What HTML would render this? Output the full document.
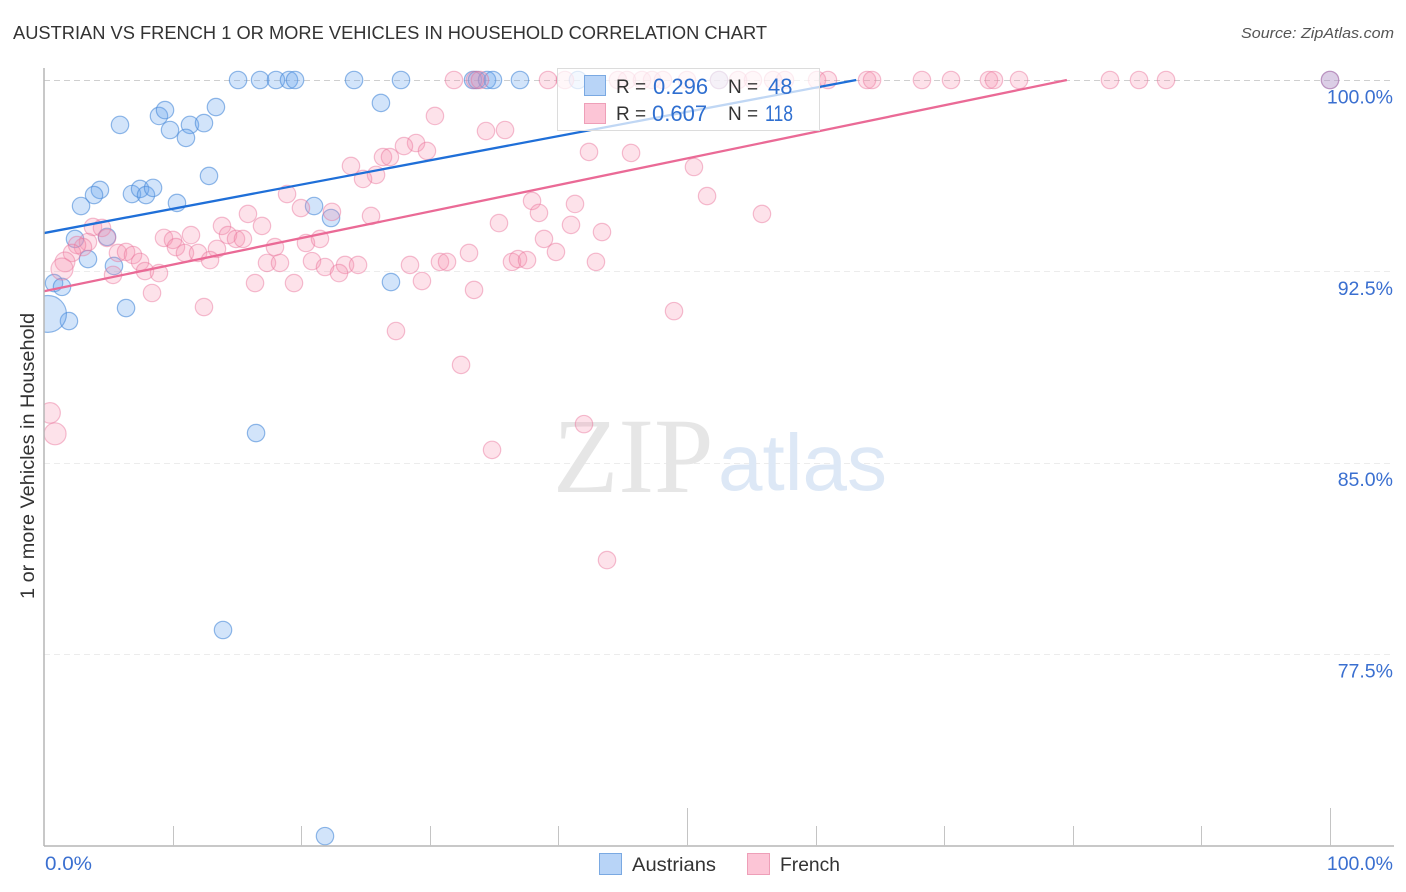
<!DOCTYPE html>
<html lang="en">
<head>
<meta charset="utf-8">
<title>Austrian vs French 1 or more Vehicles in Household Correlation Chart</title>
<style>
html,body{margin:0;padding:0;background:#fff;width:1406px;height:892px;overflow:hidden}
svg{display:block;font-family:"Liberation Sans",sans-serif}
</style>
</head>
<body>
<svg id="chart" width="1406" height="892" viewBox="0 0 1406 892" xmlns="http://www.w3.org/2000/svg">
  <defs>
    <clipPath id="plot-clip"><rect x="44" y="68" width="1350" height="778"/></clipPath>
  </defs>
  <text x="13" y="39" font-size="18.5" fill="#333" textLength="754" lengthAdjust="spacingAndGlyphs">AUSTRIAN VS FRENCH 1 OR MORE VEHICLES IN HOUSEHOLD CORRELATION CHART</text>
  <text x="1394" y="38" font-size="15" font-style="italic" fill="#555" text-anchor="end" textLength="153" lengthAdjust="spacingAndGlyphs">Source: ZipAtlas.com</text>
  <g id="grid"></g>
  <g>
    <text x="553" y="492" font-family="'Liberation Serif',serif" font-size="107" fill="#e6e6e6">ZIP</text>
    <text x="718" y="490" font-size="80" fill="#dde8f6">atlas</text>
  </g>
  <g id="points" clip-path="url(#plot-clip)"></g>
  <g id="trends"></g>
  <line x1="44" y1="68" x2="44" y2="846" stroke="#b5b5b5" stroke-width="1.5"/>
  <line x1="44" y1="846" x2="1394" y2="846" stroke="#b5b5b5" stroke-width="1.5"/>
  <g id="ticks"></g>
  <text transform="translate(34,456) rotate(-90)" font-size="19" fill="#333" text-anchor="middle" textLength="286" lengthAdjust="spacingAndGlyphs">1 or more Vehicles in Household</text>
  <g>
    <rect x="557.5" y="68.5" width="262" height="62" fill="#fff" fill-opacity="0.72" stroke="#dcdcdc" stroke-width="1"/>
    <rect x="584.5" y="75.5" width="21" height="20" fill="#b8d4f7" stroke="#7aa9e2"/>
    <rect x="584.5" y="103.5" width="21" height="20" fill="#fcc5d6" stroke="#ee9fb8"/>
    <text x="616" y="93" font-size="19" fill="#333">R =</text>
    <text x="653" y="94" font-size="22" fill="#2f6fd0">0.296</text>
    <text x="728" y="93" font-size="19" fill="#333">N =</text>
    <text x="768" y="94" font-size="22" fill="#2f6fd0">48</text>
    <text x="616" y="120" font-size="19" fill="#333">R =</text>
    <text x="652" y="121" font-size="22" fill="#2f6fd0">0.607</text>
    <text x="728" y="120" font-size="19" fill="#333">N =</text>
    <text x="765" y="121" font-size="22" fill="#2f6fd0" textLength="28" lengthAdjust="spacingAndGlyphs">118</text>
  </g>
  <g>
    <rect x="599.5" y="853.5" width="22" height="21" fill="#b8d4f7" stroke="#7aa9e2"/>
    <text x="632" y="871" font-size="19.5" fill="#333" textLength="84" lengthAdjust="spacingAndGlyphs">Austrians</text>
    <rect x="747.5" y="853.5" width="22" height="21" fill="#fcc5d6" stroke="#ee9fb8"/>
    <text x="780" y="871" font-size="19.5" fill="#333" textLength="60" lengthAdjust="spacingAndGlyphs">French</text>
  </g>
</svg>
<script>
var yTickValues = [100, 92.5, 85, 77.5];
var yTickLabels = ["100.0%", "92.5%", "85.0%", "77.5%"];
var xTickValues = [0, 10, 20, 30, 40, 50, 60, 70, 80, 90, 100];
var xMajorTicks = [50, 100];
var xEndLabels = ["0.0%", "100.0%"];

var austrianX = [15.09,16.80,18.04,19.05,19.52,24.11,27.76,33.36,33.67,34.45,34.91,37.01,41.52,52.49,100,
  26.20,5.91,8.94,9.41,9.80,11.35,12.44,13.37,11.04,12.83,
  4.35,3.89,2.88,6.84,7.47,7.93,8.48,10.34,21.00,22.32,
  4.90,2.41,3.42,5.44,0.78,1.40,26.98,6.38,1.94,0.31,
  16.49,13.92,21.85];
var austrianY = [100,100,100,100,100,100,100,100,100,100,100,100,100,100,100,
  99.10,98.24,98.59,98.82,98.04,98.24,98.31,98.94,97.73,96.24,
  95.69,95.49,95.06,95.53,95.73,95.49,95.77,95.18,95.06,94.59,
  93.85,93.77,92.98,92.71,92.04,91.89,92.08,91.06,90.55,90.83,
  86.16,78.44,70.36];
var austrianWeight = [1,1,1,1,1,1,1,1,1,1,1,1,1,1,1,
  1,1,1,1,1,1,1,1,1,1,
  1,1,1,1,1,1,1,1,1,1,
  1,1,1,1,1,1,1,1,1,4.5,
  1,1,1];

var frenchX = [31.88,33.51,33.90,39.19,40.51,44.63,45.33,46.50,47.28,48.13,50.00,52.49,53.97,55.13,56.69,57.62,60.11,60.96,64.00,64.39,68.27,70.53,73.48,73.87,75.82,82.89,85.15,87.25,100,
  30.40,28.93,27.99,29.78,26.36,26.90,23.87,25.82,24.81,18.90,19.98,22.39,25.43,15.86,16.95,13.84,14.31,14.93,15.47,11.43,
  3.81,4.51,4.90,9.33,10.03,10.26,10.96,11.98,13.45,12.91,17.96,20.37,21.46,3.42,3.03,2.57,2.18,1.63,1.40,
  5.75,6.38,6.92,7.47,7.85,8.94,5.37,17.34,18.35,20.84,21.85,23.41,24.42,22.94,19.44,16.41,8.40,12.44,
  28.46,29.39,30.79,31.34,33.05,33.44,27.37,32.43,0.47,0.86,34.84,41.99,43.78,
  34.37,35.85,42.38,45.65,50.54,51.56,55.83,37.95,38.49,41.29,35.38,40.98,43.39,38.88,39.81,36.39,36.86,37.56,42.92,48.99];
var frenchY = [100,100,100,100,100,100,100,100,100,100,100,100,100,100,100,100,100,100,100,100,100,100,100,100,100,100,100,100,100,
  98.59,97.53,97.41,97.22,96.98,96.98,96.63,96.28,96.12,95.53,94.98,94.83,94.67,94.75,94.28,94.28,93.92,93.77,93.77,93.92,
  94.24,94.20,93.81,93.81,93.73,93.45,93.22,93.22,93.38,92.94,93.45,93.61,93.77,93.65,93.45,93.53,93.22,92.87,92.59,
  93.22,93.26,93.14,92.87,92.51,92.43,92.36,92.83,92.83,92.90,92.67,92.75,92.75,92.43,92.04,92.04,91.65,91.10,
  92.75,92.12,92.87,92.87,93.22,91.77,90.16,88.83,86.95,86.13,85.50,86.51,81.18,
  98.00,98.04,97.18,97.14,96.59,95.45,94.75,95.26,94.79,95.14,94.39,94.32,94.04,93.77,93.26,92.87,92.98,92.94,92.87,90.94];
var frenchWeight = [1.4,1.6,1.3,1.6];
var frenchWeightIndex = [94,95,66,67];

var austrianTrend = [94.0, 103.5];
var frenchTrend = [91.72, 102.13];

function xScale(v) { return 44 + v * 12.86; }
function yScale(v) { return 80 + (100 - v) * 25.51; }
function radius(w) { return 8.7 * Math.sqrt(w); }

var NS = "http://www.w3.org/2000/svg";
function make(tag, parent, attrs) {
  var el = document.createElementNS(NS, tag);
  for (var k in attrs) { el.setAttribute(k, attrs[k]); }
  parent.appendChild(el);
  return el;
}

var gridG = document.getElementById("grid");
var tickG = document.getElementById("ticks");
var pointsG = document.getElementById("points");
var trendG = document.getElementById("trends");

yTickValues.forEach(function (v, i) {
  var line = make("line", gridG, {
    x1: 44, x2: 1394, y1: Math.round(yScale(v)) + 0.5, y2: Math.round(yScale(v)) + 0.5,
    stroke: i === 0 ? "#cfcfcf" : "#ececec",
    "stroke-width": 1, "stroke-dasharray": "6 4"
  });
  
  
  var label = make("text", tickG, {
    x: 1393, y: yScale(v) + 23.5, "font-size": 19.5, fill: "#3a6fd0", "text-anchor": "end"
  });
  label.textContent = yTickLabels[i];
  
  
});

xTickValues.forEach(function (v) {
  if (v === 0) { return; }
  var major = xMajorTicks.indexOf(v) >= 0;
  var tick = make("line", tickG, {
    x1: Math.round(xScale(v)) + 0.5, x2: Math.round(xScale(v)) + 0.5, y1: major ? 808 : 826, y2: 846,
    stroke: "#c4c4c4", "stroke-width": 1
  });
  
  
});

var xLabelLeft = make("text", tickG, { x: 45, y: 870, "font-size": 19.5, fill: "#3a6fd0", textLength: 47, lengthAdjust: "spacingAndGlyphs" });
xLabelLeft.textContent = xEndLabels[0];



var xLabelRight = make("text", tickG, { x: 1393, y: 870, "font-size": 19.5, fill: "#3a6fd0", "text-anchor": "end" });
xLabelRight.textContent = xEndLabels[1];



austrianX.forEach(function (x, i) {
  var c = make("circle", pointsG, {
    cx: xScale(x), cy: yScale(austrianY[i]), r: radius(austrianWeight[i]),
    fill: "#6aa6ee", "fill-opacity": 0.3, stroke: "#4a8ad8", "stroke-opacity": 0.6, "stroke-width": 1.2
  });
  
  
});

frenchX.forEach(function (x, i) {
  var wi = frenchWeightIndex.indexOf(i);
  var c = make("circle", pointsG, {
    cx: xScale(x), cy: yScale(frenchY[i]), r: radius(wi >= 0 ? frenchWeight[wi] : 1),
    fill: "#f78fae", "fill-opacity": 0.26, stroke: "#e8709a", "stroke-opacity": 0.45, "stroke-width": 1.2
  });
  
  
});

function trendPoints(t) {
  var xEnd = 100;
  if (t[1] > 100) { xEnd = 100 * (100 - t[0]) / (t[1] - t[0]); }
  return [[0, t[0]], [xEnd, Math.min(100, t[0] + (t[1] - t[0]) * xEnd / 100)]];
}

var blue = trendPoints(austrianTrend);
var blueLine = make("line", trendG, {
  x1: xScale(blue[0][0]), y1: yScale(blue[0][1]), x2: xScale(blue[1][0]), y2: yScale(blue[1][1]),
  stroke: "#1f6fd8", "stroke-width": 2.3
});



var pink = trendPoints(frenchTrend);
var pinkLine = make("line", trendG, {
  x1: xScale(pink[0][0]), y1: yScale(pink[0][1]), x2: xScale(pink[1][0]), y2: yScale(pink[1][1]),
  stroke: "#ea6a96", "stroke-width": 2.3
});


</script>
</body>
</html>
